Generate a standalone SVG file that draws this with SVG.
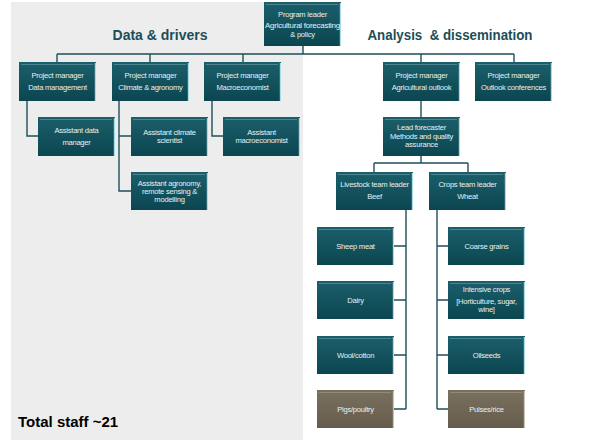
<svg xmlns="http://www.w3.org/2000/svg" width="605" height="440" viewBox="0 0 605 440">
  <defs>
    <linearGradient id="teal" x1="0" y1="0" x2="0" y2="1">
      <stop offset="0" stop-color="#1b5f6b"/>
      <stop offset="1" stop-color="#0b4650"/>
    </linearGradient>
    <linearGradient id="brown" x1="0" y1="0" x2="0" y2="1">
      <stop offset="0" stop-color="#7a705f"/>
      <stop offset="1" stop-color="#655c4d"/>
    </linearGradient>
    <style>
      .box { fill: url(#teal); }
      .box.b { fill: url(#brown); }
      .hl { fill: none; stroke: #5b8f98; stroke-width: 1; opacity: 0.8; }
      .hl.b { stroke: #9a907e; }
      .edge { fill: none; stroke: #a9dbe4; stroke-width: 1.2; }
      .edge.b { stroke: #c9c2b4; }
      .t { font-family: "Liberation Sans", Arial, sans-serif; font-size: 7.6px; fill: #e6f1f3; text-anchor: middle; letter-spacing: -0.25px; }
      .h { font-family: "Liberation Sans", Arial, sans-serif; font-size: 14px; font-weight: bold; fill: #1b4e58; text-anchor: middle; }
      .conn { fill: none; stroke: #1f4f5a; stroke-width: 1.4; }
    </style>
  </defs>

  <rect x="11" y="2" width="292" height="438" fill="#ededed"/>

  <text class="h" x="160" y="40">Data &amp; drivers</text>
  <text class="h" x="450" y="40" xml:space="preserve" textLength="165" lengthAdjust="spacingAndGlyphs">Analysis  &amp; dissemination</text>
  <text x="18" y="427" font-family="'Liberation Sans', Arial, sans-serif" font-size="15" font-weight="bold" fill="#000">Total staff ~21</text>

  <g id="connectors">
    <path class="conn" d="M303 46V54M57 54H514M57 54V62M150 54V62M243 54V62M421 54V62M514 54V62"/>
    <path class="conn" d="M27 101V136H38"/>
    <path class="conn" d="M119 101V191H131M119 136H131"/>
    <path class="conn" d="M212 101V136H223"/>
    <path class="conn" d="M421 101V117"/>
    <path class="conn" d="M421 156V163M374 163H468M374 163V172M468 163V172"/>
    <path class="conn" d="M406 210V409M394 246H406M394 300H406M394 355H406M394 409H406"/>
    <path class="conn" d="M437 210V409M437 246H448M437 300H448M437 355H448M437 409H448"/>
  </g>

  <g id="program-leader" transform="translate(264,2)">
    <rect class="box" width="77" height="44"/>
    <path class="hl" d="M2 2.5H74"/>
    <path class="edge" d="M76.4 1V44"/>
    <text class="t" x="38.5" y="14.5">Program leader</text>
    <text class="t" x="38.5" y="26" textLength="75" lengthAdjust="spacingAndGlyphs">Agricultural forecasting</text>
    <text class="t" x="38.5" y="34.5">&amp; policy</text>
  </g>

  <g id="pm-data" transform="translate(19,62)">
    <rect class="box" width="77" height="39"/>
    <path class="hl" d="M2 2.5H74"/>
    <path class="edge" d="M76.4 1V39"/>
    <text class="t" x="38.5" y="16">Project manager</text>
    <text class="t" x="38.5" y="28">Data management</text>
  </g>

  <g id="pm-climate" transform="translate(112,62)">
    <rect class="box" width="77" height="39"/>
    <path class="hl" d="M2 2.5H74"/>
    <path class="edge" d="M76.4 1V39"/>
    <text class="t" x="38.5" y="16">Project manager</text>
    <text class="t" x="38.5" y="28">Climate &amp; agronomy</text>
  </g>

  <g id="pm-macro" transform="translate(204,62)">
    <rect class="box" width="77" height="39"/>
    <path class="hl" d="M2 2.5H74"/>
    <path class="edge" d="M76.4 1V39"/>
    <text class="t" x="38.5" y="16">Project manager</text>
    <text class="t" x="38.5" y="28">Macroeconomist</text>
  </g>

  <g id="pm-outlook" transform="translate(383,62)">
    <rect class="box" width="77" height="39"/>
    <path class="hl" d="M2 2.5H74"/>
    <path class="edge" d="M76.4 1V39"/>
    <text class="t" x="38.5" y="16">Project manager</text>
    <text class="t" x="38.5" y="28">Agricultural outlook</text>
  </g>

  <g id="pm-conferences" transform="translate(475,62)">
    <rect class="box" width="77" height="39"/>
    <path class="hl" d="M2 2.5H74"/>
    <path class="edge" d="M76.4 1V39"/>
    <text class="t" x="38.5" y="16">Project manager</text>
    <text class="t" x="38.5" y="28">Outlook conferences</text>
  </g>

  <g id="asst-data" transform="translate(38,117)">
    <rect class="box" width="77" height="39"/>
    <path class="hl" d="M2 2.5H74"/>
    <path class="edge" d="M76.4 1V39"/>
    <text class="t" x="38.5" y="16">Assistant data</text>
    <text class="t" x="38.5" y="28">manager</text>
  </g>

  <g id="asst-climate" transform="translate(131,117)">
    <rect class="box" width="77" height="39"/>
    <path class="hl" d="M2 2.5H74"/>
    <path class="edge" d="M76.4 1V39"/>
    <text class="t" x="38.5" y="17.5">Assistant climate</text>
    <text class="t" x="38.5" y="26">scientist</text>
  </g>

  <g id="asst-macro" transform="translate(223,117)">
    <rect class="box" width="77" height="39"/>
    <path class="hl" d="M2 2.5H74"/>
    <path class="edge" d="M76.4 1V39"/>
    <text class="t" x="38.5" y="17.5">Assistant</text>
    <text class="t" x="38.5" y="26">macroeconomist</text>
  </g>

  <g id="asst-agronomy" transform="translate(131,172)">
    <rect class="box" width="77" height="38"/>
    <path class="hl" d="M2 2.5H74"/>
    <path class="edge" d="M76.4 1V38"/>
    <text class="t" x="38.5" y="13.5">Assistant agronomy,</text>
    <text class="t" x="38.5" y="21.5">remote sensing &amp;</text>
    <text class="t" x="38.5" y="29.5">modelling</text>
  </g>

  <g id="lead-forecaster" transform="translate(383,117)">
    <rect class="box" width="77" height="39"/>
    <path class="hl" d="M2 2.5H74"/>
    <path class="edge" d="M76.4 1V39"/>
    <text class="t" x="38.5" y="13">Lead forecaster</text>
    <text class="t" x="38.5" y="22">Methods and quality</text>
    <text class="t" x="38.5" y="30">assurance</text>
  </g>

  <g id="livestock-leader" transform="translate(336,172)">
    <rect class="box" width="77" height="38"/>
    <path class="hl" d="M2 2.5H74"/>
    <path class="edge" d="M76.4 1V38"/>
    <text class="t" x="38.5" y="15">Livestock team leader</text>
    <text class="t" x="38.5" y="27">Beef</text>
  </g>

  <g id="crops-leader" transform="translate(429,172)">
    <rect class="box" width="77" height="38"/>
    <path class="hl" d="M2 2.5H74"/>
    <path class="edge" d="M76.4 1V38"/>
    <text class="t" x="38.5" y="15">Crops team leader</text>
    <text class="t" x="38.5" y="27">Wheat</text>
  </g>

  <g id="sheepmeat" transform="translate(317,227)">
    <rect class="box" width="77" height="38"/>
    <path class="hl" d="M2 2.5H74"/>
    <path class="edge" d="M76.4 1V38"/>
    <text class="t" x="38.5" y="21.5">Sheep meat</text>
  </g>

  <g id="dairy" transform="translate(317,281)">
    <rect class="box" width="77" height="38"/>
    <path class="hl" d="M2 2.5H74"/>
    <path class="edge" d="M76.4 1V38"/>
    <text class="t" x="38.5" y="21.5">Dairy</text>
  </g>

  <g id="wool-cotton" transform="translate(317,336)">
    <rect class="box" width="77" height="38"/>
    <path class="hl" d="M2 2.5H74"/>
    <path class="edge" d="M76.4 1V38"/>
    <text class="t" x="38.5" y="21.5">Wool/cotton</text>
  </g>

  <g id="pigs-poultry" transform="translate(317,390)">
    <rect class="box b" width="77" height="38"/>
    <path class="hl b" d="M2 2.5H74"/>
    <path class="edge b" d="M76.4 1V38"/>
    <text class="t" x="38.5" y="21.5">Pigs/poultry</text>
  </g>

  <g id="coarse-grains" transform="translate(448,227)">
    <rect class="box" width="77" height="38"/>
    <path class="hl" d="M2 2.5H74"/>
    <path class="edge" d="M76.4 1V38"/>
    <text class="t" x="38.5" y="21.5">Coarse grains</text>
  </g>

  <g id="intensive-crops" transform="translate(448,281)">
    <rect class="box" width="77" height="38"/>
    <path class="hl" d="M2 2.5H74"/>
    <path class="edge" d="M76.4 1V38"/>
    <text class="t" x="38.5" y="11">Intensive crops</text>
    <text class="t" x="38.5" y="23">[Horticulture, sugar,</text>
    <text class="t" x="38.5" y="31">wine]</text>
  </g>

  <g id="oilseeds" transform="translate(448,336)">
    <rect class="box" width="77" height="38"/>
    <path class="hl" d="M2 2.5H74"/>
    <path class="edge" d="M76.4 1V38"/>
    <text class="t" x="38.5" y="21.5">Oilseeds</text>
  </g>

  <g id="pulses-rice" transform="translate(448,390)">
    <rect class="box b" width="77" height="38"/>
    <path class="hl b" d="M2 2.5H74"/>
    <path class="edge b" d="M76.4 1V38"/>
    <text class="t" x="38.5" y="21.5">Pulses/rice</text>
  </g>
</svg>
